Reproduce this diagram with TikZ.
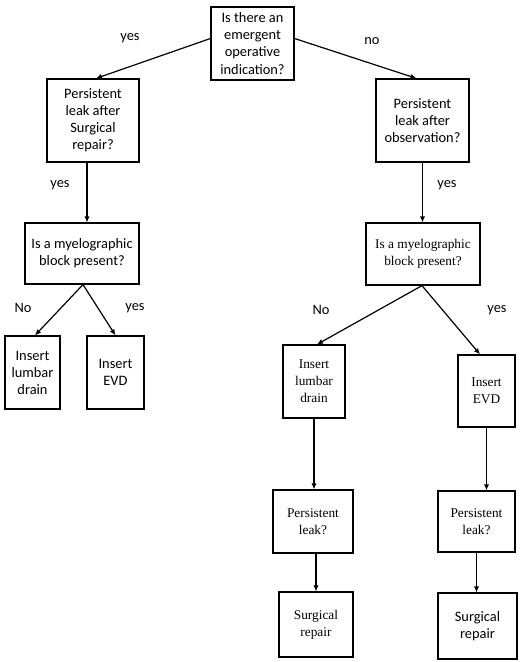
\documentclass[tikz,border=0pt]{standalone}
\usepackage{fontspec}
\setmainfont{Carlito}
\newfontfamily\serifbox{Liberation Serif}
\usetikzlibrary{arrows.meta}
\begin{document}
\begin{tikzpicture}[x=0.75pt,y=-0.75pt,
  box/.style={draw, line width=0.9pt, inner sep=0pt, align=center, font=\fontsize{10.8}{12.8}\selectfont},
  sbox/.style={box, font=\serifbox\fontsize{10}{12.8}\selectfont},
  arr/.style={line width=0.9pt, -{Latex[length=4.5pt,width=4pt]}},
  lab/.style={font=\fontsize{10.8}{12}\selectfont, inner sep=0pt}]
\useasboundingbox (0,0) rectangle (520,662);
\node[box, minimum width={83*0.75pt}, minimum height={73*0.75pt}] (top) at (252.5,43.5) {Is there an\\emergent\\operative\\indication?};
\node[box, minimum width={92*0.75pt}, minimum height={83*0.75pt}] (pl) at (93,120.5) {Persistent\\leak after\\Surgical\\repair?};
\node[box, minimum width={93*0.75pt}, minimum height={83*0.75pt}] (pr) at (422.5,120.5) {Persistent\\leak after\\observation?};
\node[box, minimum width={114*0.75pt}, minimum height={61*0.75pt}] (ml) at (82,253.5) {Is a myelographic\\block present?};
\node[sbox, minimum width={114*0.75pt}, minimum height={62*0.75pt}] (mr) at (423,254) {Is a myelographic\\block present?};
\node[box, minimum width={55*0.75pt}, minimum height={73*0.75pt}] (ldl) at (32.5,372.5) {Insert\\lumbar\\drain};
\node[box, minimum width={57*0.75pt}, minimum height={73*0.75pt}] (evdl) at (115.5,372.5) {Insert\\EVD};
\node[sbox, minimum width={62*0.75pt}, minimum height={73*0.75pt}] (ldr) at (314,381.5) {Insert\\lumbar\\drain};
\node[sbox, minimum width={57*0.75pt}, minimum height={72*0.75pt}] (evdr) at (486.5,391) {Insert\\EVD};
\node[sbox, minimum width={80*0.75pt}, minimum height={63*0.75pt}] (pll) at (313,521.5) {Persistent\\leak?};
\node[sbox, minimum width={77*0.75pt}, minimum height={61*0.75pt}] (plr) at (476.5,521.5) {Persistent\\leak?};
\node[sbox, minimum width={74*0.75pt}, minimum height={65*0.75pt}] (srl) at (316,624.5) {Surgical\\repair};
\node[box, minimum width={79*0.75pt}, minimum height={66*0.75pt}] (srr) at (477.5,626) {Surgical\\repair};
% connectors
\draw[arr] ([yshift={5*0.75pt}]top.west) -- ([xshift={3*0.75pt}]pl.north);
\draw[arr] ([yshift={5*0.75pt}]top.east) -- ([xshift={-6*0.75pt}]pr.north);
\draw[arr] ([xshift={-6*0.75pt}]pl.south) -- ([xshift={-6*0.75pt}]pl.south |- ml.north);
\draw[arr] (pr.south) -- (pr.south |- mr.north);
\draw[arr] ([xshift={1*0.75pt}]ml.south) -- ([xshift={2.5*0.75pt}]ldl.north);
\draw[arr] ([xshift={1*0.75pt}]ml.south) -- (evdl.north);
\draw[arr] ([xshift={-1*0.75pt}]mr.south) -- ([xshift={3*0.75pt}]ldr.north);
\draw[arr] ([xshift={-1*0.75pt}]mr.south) -- ([xshift={-6.5*0.75pt}]evdr.north);
\draw[arr] (ldr.south) -- (ldr.south |- pll.north);
\draw[arr] (evdr.south) -- (evdr.south |- plr.north);
\draw[arr] ([xshift={3*0.75pt}]pll.south) -- ([xshift={3*0.75pt}]pll.south |- srl.north);
\draw[arr] (plr.south) -- (plr.south |- srr.north);
% labels
\node[lab] (l1) at (130,38) {yes};
\node[lab] (l2) at (372,41) {no};
\node[lab] (l3) at (60,185) {yes};
\node[lab] (l4) at (447,185) {yes};
\node[lab] (l5) at (23,308) {No};
\node[lab] (l6) at (135,308) {yes};
\node[lab] (l7) at (321,310) {No};
\node[lab] (l8) at (497,310) {yes};
\end{tikzpicture}
\end{document}
